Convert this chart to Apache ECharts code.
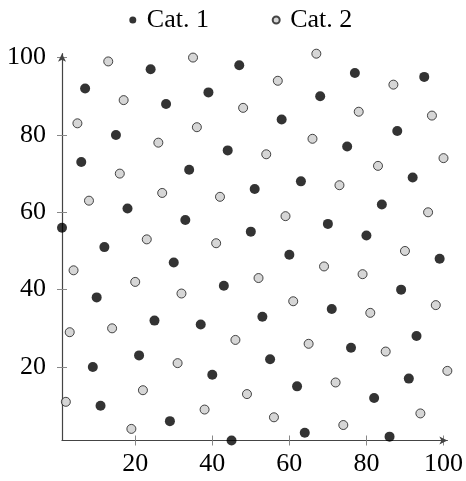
<!DOCTYPE html>
<html>
<head>
<meta charset="utf-8">
<script src="https://cdn.jsdelivr.net/npm/echarts@6/dist/echarts.min.js"></script>
<style>
html,body{margin:0;padding:0;background:#fff;}
#chart{width:466px;height:481px;}
</style>
</head>
<body>
<div id="chart"></div>
<script>
const seriesNames = ['Cat. 1', 'Cat. 2'];
const tickValues = [20, 40, 60, 80, 100];
const cat1 = [
  [24,97],[47,98],[7,92],[28,88],[39,91],[15,80],[44,76],[6,73],[34,71],[18,61],
  [33,58],[1,56],[12,51],[77,96],[95,95],[68,90],[58,84],[88,81],[75,77],[51,66],
  [63,68],[92,69],[84,62],[70,57],[50,55],[80,54],[30,47],[43,41],[10,38],[25,32],
  [37,31],[21,23],[9,20],[40,18],[11,10],[29,6],[45,1],[60,49],[99,48],[89,40],
  [71,35],[53,33],[76,25],[93,28],[55,22],[62,15],[91,17],[82,12],[64,3],[86,2]
];
const cat2 = [
  [13,99],[35,100],[17,89],[48,87],[5,83],[26,78],[36,82],[16,70],[8,63],[27,65],
  [42,64],[23,53],[41,52],[67,101],[57,94],[87,93],[78,86],[97,85],[66,79],[54,75],
  [83,72],[100,74],[73,67],[59,59],[96,60],[4,45],[20,42],[32,39],[3,29],[14,30],
  [46,27],[31,21],[49,13],[22,14],[2,11],[38,9],[19,4],[90,50],[52,43],[69,46],
  [79,44],[61,37],[81,34],[98,36],[65,26],[85,24],[101,19],[72,16],[56,7],[74,5],[94,8]
];

const FONT = '"Liberation Serif", "DejaVu Serif", serif';
const chart = echarts.init(document.getElementById('chart'), null, {renderer: 'canvas'});

function mkAxis(isX, main) {
  return {
    type: 'value',
    min: 1, max: 101,
    position: isX ? 'bottom' : 'left',
    splitLine: {show: false},
    axisLine: main ? {
      show: true,
      symbol: ['none', 'arrow'],
      symbolSize: [6, 8],
      symbolOffset: [0, 0],
      lineStyle: {color: '#444', width: 1.2}
    } : {show: false},
    axisTick: {
      show: true,
      inside: !main,
      length: 5,
      customValues: tickValues,
      lineStyle: {color: '#888', width: 1}
    },
    axisLabel: main ? {
      show: true,
      customValues: tickValues,
      color: '#000',
      fontFamily: FONT,
      fontSize: 26,
      margin: isX ? 11 : 16
    } : {show: false}
  };
}

const option = {
  animation: false,
  backgroundColor: '#fff',
  grid: {left: 62, top: 53.7, width: 387.5, height: 386.8, containLabel: false},
  legend: [
    {
      data: [seriesNames[0]], left: 124.3, top: 2, itemWidth: 18, itemHeight: 7,
      textStyle: {fontFamily: FONT, fontSize: 26, color: '#000'}
    },
    {
      data: [seriesNames[1]], left: 266.7, top: 2, itemWidth: 18, itemHeight: 7,
      textStyle: {fontFamily: FONT, fontSize: 26, color: '#000'}
    }
  ],
  xAxis: [mkAxis(true, true), mkAxis(true, false)],
  yAxis: [mkAxis(false, true), mkAxis(false, false)],
  series: [
    {
      name: seriesNames[0], type: 'scatter', data: cat1,
      xAxisIndex: 0, yAxisIndex: 0,
      symbol: 'circle', symbolSize: 10,
      itemStyle: {color: '#000', borderColor: '#000', borderWidth: 0}
    },
    {
      name: seriesNames[1], type: 'scatter', data: cat2,
      xAxisIndex: 0, yAxisIndex: 0,
      symbol: 'circle', symbolSize: 9,
      itemStyle: {color: '#cccccc', borderColor: '#1a1a1a', borderWidth: 1}
    }
  ]
};
chart.setOption(option);
</script>
</body>
</html>
